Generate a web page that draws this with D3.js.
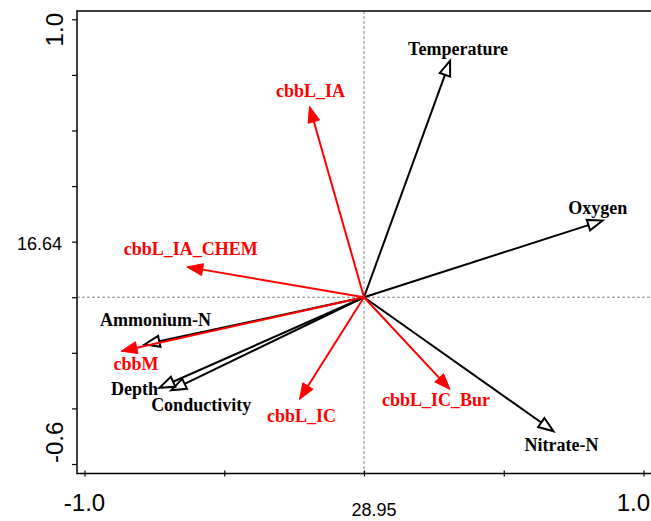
<!DOCTYPE html>
<html>
<head>
<meta charset="utf-8">
<title>RDA biplot</title>
<script src="https://cdn.jsdelivr.net/npm/d3@7"></script>
<style>
  body { margin: 0; background: #fff; }
</style>
</head>
<body>
<div id="chart"></div>
<script>
// environmental variables (black arrows, open heads)
var envNames = ["Temperature", "Oxygen", "Nitrate-N", "Conductivity", "Depth", "Ammonium-N"];
var envX = [0.308, 0.854, 0.678, -0.690, -0.732, -0.785];
var envY = [0.851, 0.276, -0.482, -0.335, -0.326, -0.170];

// gene groups (red arrows, filled heads)
var geneNames = ["cbbL_IA", "cbbL_IA_CHEM", "cbbM", "cbbL_IC", "cbbL_IC_Bur"];
var geneX = [-0.195, -0.634, -0.869, -0.231, 0.308];
var geneY = [0.687, 0.109, -0.194, -0.368, -0.332];

// tick values and their printed labels
var xTicks = [-1.0, -0.5, 0, 0.5, 1.0];
var xTickLabels = ["-1.0", "", "28.95", "", "1.0"];
var yTicks = [-0.6, -0.4, -0.2, 0, 0.2, 0.4, 0.6, 0.8, 1.0];
var yTickLabels = ["-0.6", "", "", "", "16.64", "", "", "", "1.0"];

// label placement relative to arrow tip (pixels)
var envLabelOff = [[8, -6], [-5, -7], [8, 20], [30, 21], [-25, 7], [11, -18]];
var geneLabelOff = [[1, -9], [4, -12], [15, 19], [2, 22], [-14, 16]];

var W = 651, H = 521;
var plotLeft = 77, plotTop = 11, plotBottom = 473.5, plotRight = 651;

var svg = d3.select("#chart").append("svg")
    .attr("width", W)
    .attr("height", H);

var x = d3.scaleLinear().domain([-1, 1]).range([84.5, 643.5]);
var y = d3.scaleLinear().domain([-0.6, 1.0]).range([464, 19.3]);

// dashed zero lines
svg.append("line")
    .attr("x1", plotLeft).attr("x2", plotRight)
    .attr("y1", y(0)).attr("y2", y(0))
    .style("stroke", "#888").style("stroke-width", 1).style("stroke-dasharray", "3,2");
svg.append("line")
    .attr("x1", x(0)).attr("x2", x(0))
    .attr("y1", plotTop).attr("y2", plotBottom)
    .style("stroke", "#888").style("stroke-width", 1).style("stroke-dasharray", "3,2");

// frame: top, left, bottom
svg.append("path")
    .attr("d", "M" + plotRight + "," + plotTop + "H" + plotLeft + "V" + plotBottom + "H" + plotRight)
    .style("fill", "none").style("stroke", "#000").style("stroke-width", 1.5);

// y axis ticks
var yAxis = svg.append("g")
    .attr("transform", "translate(" + plotLeft + ",0)")
    .call(d3.axisLeft(y).tickValues(yTicks).tickSize(5).tickSizeOuter(0).tickFormat(""));
yAxis.select(".domain").remove();
yAxis.selectAll(".tick line").style("stroke-width", 1.2);

// x axis ticks (crossing the line)
var xAxis = svg.append("g")
    .attr("transform", "translate(0," + plotBottom + ")")
    .call(d3.axisBottom(x).tickValues(xTicks).tickSize(3).tickSizeOuter(0).tickFormat(""));
xAxis.select(".domain").remove();
xAxis.selectAll(".tick line").attr("y1", -3).style("stroke-width", 1.2);

var sans = "'Liberation Sans', Arial, sans-serif";

// x tick labels
xTicks.forEach(function (v, i) {
    var t = xTickLabels[i];
    if (!t) return;
    var big = (i === 0 || i === xTicks.length - 1);
    var tx = svg.append("text")
        .style("font-family", sans)
        .style("font-size", big ? "24px" : "18px")
        .text(t);
    if (i === xTicks.length - 1) {
        tx.attr("x", W - 1).attr("y", 511).style("text-anchor", "end");
    } else if (big) {
        tx.attr("x", x(v)).attr("y", 511).style("text-anchor", "middle");
    } else {
        tx.attr("x", x(v) + 10).attr("y", 516).style("text-anchor", "middle");
    }
});

// y tick labels
yTicks.forEach(function (v, i) {
    var t = yTickLabels[i];
    if (!t) return;
    if (i === 0) {
        svg.append("text")
            .attr("transform", "translate(63," + (y(v) - 1) + ") rotate(-90)")
            .style("font-family", sans).style("font-size", "24px")
            .style("text-anchor", "start")
            .text(t);
    } else if (i === yTicks.length - 1) {
        svg.append("text")
            .attr("transform", "translate(63," + 13 + ") rotate(-90)")
            .style("font-family", sans).style("font-size", "24px")
            .style("text-anchor", "end")
            .text(t);
    } else {
        svg.append("text")
            .attr("x", 62).attr("y", y(v) + 8)
            .style("font-family", sans).style("font-size", "18px")
            .style("text-anchor", "end")
            .text(t);
    }
});

// arrows
function drawArrow(vx, vy, color, open) {
    var ox = x(0), oy = y(0), tx = x(vx), ty = y(vy);
    var ang = Math.atan2(ty - oy, tx - ox);
    var len = open ? 15 : 16, hw = open ? 5.5 : 6;
    var bx = tx - len * Math.cos(ang), by = ty - len * Math.sin(ang);
    var px = -Math.sin(ang) * hw, py = Math.cos(ang) * hw;
    svg.append("line")
        .attr("x1", ox).attr("y1", oy).attr("x2", bx).attr("y2", by)
        .style("stroke", color).style("stroke-width", 2);
    svg.append("polygon")
        .attr("points", [[tx, ty], [bx + px, by + py], [bx - px, by - py]].map(function (p) { return p.join(","); }).join(" "))
        .style("fill", open ? "#fff" : color)
        .style("stroke", color)
        .style("stroke-width", open ? 2 : 1)
        .style("stroke-linejoin", "miter");
}

envNames.forEach(function (n, i) { drawArrow(envX[i], envY[i], "#000", true); });
geneNames.forEach(function (n, i) { drawArrow(geneX[i], geneY[i], "#ff0000", false); });

var serif = "'Liberation Serif', 'Times New Roman', serif";

svg.selectAll("text.env")
    .data(envNames)
    .enter()
    .append("text")
    .attr("class", "env")
    .attr("x", function (d, i) { return x(envX[i]) + envLabelOff[i][0]; })
    .attr("y", function (d, i) { return y(envY[i]) + envLabelOff[i][1]; })
    .style("text-anchor", "middle")
    .style("font-family", serif)
    .style("font-weight", "bold")
    .style("font-size", "18px")
    .style("fill", "#000")
    .text(function (d) { return d; });

svg.selectAll("text.gene")
    .data(geneNames)
    .enter()
    .append("text")
    .attr("class", "gene")
    .attr("x", function (d, i) { return x(geneX[i]) + geneLabelOff[i][0]; })
    .attr("y", function (d, i) { return y(geneY[i]) + geneLabelOff[i][1]; })
    .style("text-anchor", "middle")
    .style("font-family", serif)
    .style("font-weight", "bold")
    .style("font-size", "18px")
    .style("fill", "#ff0000")
    .text(function (d) { return d; });
</script>
</body>
</html>
